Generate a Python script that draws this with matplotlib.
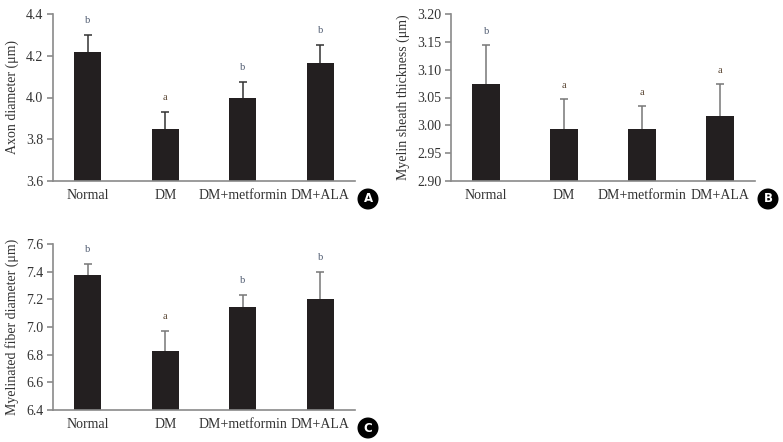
import matplotlib
matplotlib.use("Agg")
import matplotlib.pyplot as plt

plt.rcParams['font.family'] = ['Liberation Serif', 'DejaVu Serif']

groups = ["Normal", "DM", "DM+metformin", "DM+ALA"]

axon_mean = [4.22, 3.85, 4.00, 4.165]
axon_err = [0.08, 0.08, 0.075, 0.085]
axon_sig = ["b", "a", "b", "b"]

sheath_mean = [3.075, 2.993, 2.993, 3.017]
sheath_err = [0.069, 0.054, 0.042, 0.057]
sheath_sig = ["b", "a", "a", "a"]

fiber_mean = [7.375, 6.83, 7.145, 7.20]
fiber_err = [0.08, 0.14, 0.083, 0.20]
fiber_sig = ["b", "a", "b", "b"]

fig = plt.figure(figsize=(7.83, 4.42), dpi=100)

W, H = 783, 442


def panel(box, mean, err, sig, ylim, yticks, fmt, ylabel, letter, ecolor, gap):
    left, top, right, bottom = box
    ax = fig.add_axes([left / W, 1 - bottom / H, (right - left) / W, (bottom - top) / H])
    x = list(range(len(groups)))
    ax.bar(x, mean, width=0.35, color="#231f20", zorder=3)
    # only the upper half of the error bar
    upper = [m + e for m, e in zip(mean, err)]
    ax.vlines(x, mean, upper, colors=ecolor, linewidth=1.1, zorder=2)
    ax.plot(x, upper, ls="none", marker="_", ms=5.5, mew=1.1, color=ecolor, zorder=2)
    for i, (u, s) in enumerate(zip(upper, sig)):
        c = "#5a4634" if s == "a" else "#4f5b70"
        ax.text(i, u + gap, s, ha="center", va="center", fontsize=7.5, color=c)
    ax.set_xlim(-0.45, 3.45)
    ax.set_ylim(*ylim)
    ax.set_yticks(yticks)
    ax.set_yticklabels([fmt.format(v) for v in yticks])
    ax.set_xticks(x)
    ax.set_xticklabels(groups)
    for s in ["top", "right"]:
        ax.spines[s].set_visible(False)
    for s in ["left", "bottom"]:
        ax.spines[s].set_color("#8a8a8a")
        ax.spines[s].set_linewidth(1.2)
        ax.spines[s].set_zorder(4)
    ax.tick_params(axis="y", length=4, width=1.2, color="#8a8a8a", labelsize=10,
                   labelcolor="#333333", pad=3)
    ax.tick_params(axis="x", length=0, labelsize=10, labelcolor="#333333", pad=6)
    ax.set_ylabel(ylabel, fontsize=10, color="#333333", labelpad=5)
    fig.text((right + 13) / W, 1 - (bottom + 18) / H, letter, ha="center", va="center",
             fontsize=8.5, fontweight="bold", color="white", family="DejaVu Sans",
             bbox=dict(boxstyle="circle,pad=0.28", fc="black", ec="black"))
    return ax


panel((53, 14, 355, 181), axon_mean, axon_err, axon_sig, (3.6, 4.4),
      [3.6, 3.8, 4.0, 4.2, 4.4], "{:.1f}", "Axon diameter (\u03bcm)", "A", "#333333", 0.07)
panel((451, 14, 755, 181), sheath_mean, sheath_err, sheath_sig, (2.90, 3.20),
      [2.90, 2.95, 3.00, 3.05, 3.10, 3.15, 3.20], "{:.2f}", "Myelin sheath thickness (\u03bcm)",
      "B", "#777777", 0.024)
panel((53, 244, 355, 410), fiber_mean, fiber_err, fiber_sig, (6.4, 7.6),
      [6.4, 6.6, 6.8, 7.0, 7.2, 7.4, 7.6], "{:.1f}", "Myelinated fiber diameter (\u03bcm)",
      "C", "#777777", 0.105)

fig.savefig("out.png", dpi=100)
